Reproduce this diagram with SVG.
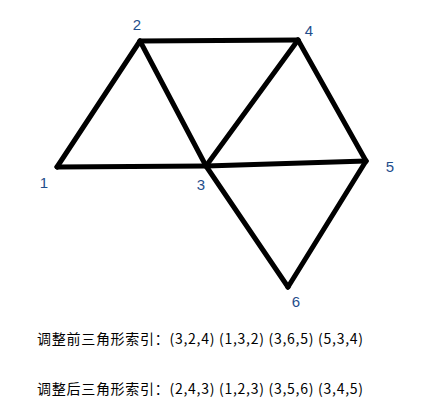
<svg xmlns="http://www.w3.org/2000/svg" width="432" height="420" viewBox="0 0 432 420">
<style>
.e{stroke:#000;stroke-width:5;fill:none;stroke-linecap:round;stroke-linejoin:round}
.n{font-family:"Liberation Sans","Noto Sans",sans-serif;font-size:15px;fill:#1f4e8c;text-anchor:middle}
.t{font-family:"Noto Sans CJK SC","Liberation Sans",sans-serif;font-size:14px;fill:#000}
</style>
<rect width="432" height="420" fill="#fff"/>
<g id="connectors">
<line class="e" x1="57" y1="167" x2="140" y2="41"/>
<line class="e" x1="57" y1="167" x2="206" y2="166"/>
<line class="e" x1="140" y1="41" x2="298" y2="40"/>
<line class="e" x1="140" y1="41" x2="206" y2="166"/>
<line class="e" x1="206" y1="166" x2="298" y2="40"/>
<line class="e" x1="206" y1="166" x2="366" y2="161"/>
<line class="e" x1="298" y1="40" x2="366" y2="161"/>
<line class="e" x1="206" y1="166" x2="288" y2="287"/>
<line class="e" x1="366" y1="161" x2="288" y2="287"/>
</g>
<g id="node1"><text class="n" x="44" y="188">1</text></g>
<g id="node2"><text class="n" x="137" y="30">2</text></g>
<g id="node3"><text class="n" x="201" y="190">3</text></g>
<g id="node4"><text class="n" x="309" y="36">4</text></g>
<g id="node5"><text class="n" x="390" y="172">5</text></g>
<g id="node6"><text class="n" x="296" y="307">6</text></g>
<g id="labels">
<text class="t" x="37" y="344" textLength="326" lengthAdjust="spacing">调整前三角形索引：(3,2,4) (1,3,2) (3,6,5) (5,3,4)</text>
<text class="t" x="37" y="394" textLength="326" lengthAdjust="spacing">调整后三角形索引：(2,4,3) (1,2,3) (3,5,6) (3,4,5)</text>
</g>
</svg>
